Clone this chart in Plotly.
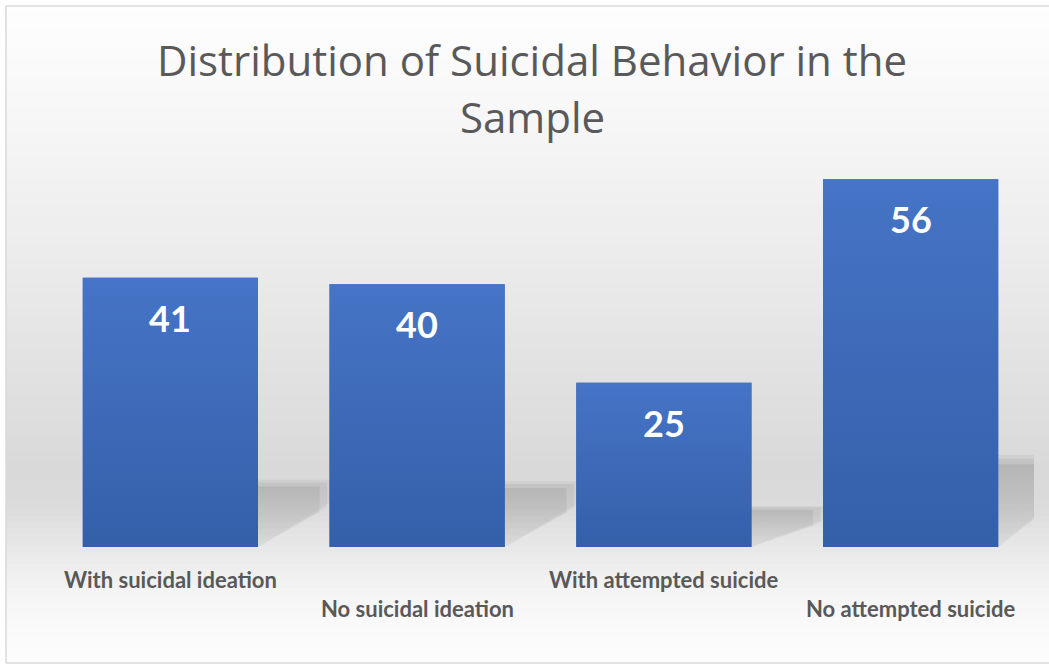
import plotly.graph_objects as go

# ---- data ----
categories = ["With suicidal ideation", "No suicidal ideation",
              "With attempted suicide", "No attempted suicide"]
values = [41, 40, 25, 56]
title_lines = ["Distribution of Suicidal Behavior in the", "Sample"]

# ---- layout constants ----
W, H = 1049, 666
ML, MR, MT, MB = 47, 15, 153, 119
PW, PH = W - ML - MR, H - MT - MB
YMAX = 60
BAR_W = 0.71
GREY_TXT = "#595959"

def px_x(px):
    return (px - ML) / PW

def px_y(py):
    return (H - MB - py) / PH

fig = go.Figure()

# soft shadows behind bars (derived from values), layered for a blur effect
layers = [(0.30, 0.25, 0.17, 0.05), (0.28, 0.24, 0.15, 0.06), (0.25, 0.225, 0.13, 0.07)]
for i, v in enumerate(values):
    xr = i + BAR_W / 2
    for wdt, top, low, a in layers:
        xs = [xr, xr, xr + wdt, xr + wdt, xr]
        ys = [0, top * v, top * v, low * v, 0]
        fig.add_trace(go.Scatter(
            x=xs, y=ys, mode="lines", fill="toself", line=dict(width=0),
            fillcolor=f"rgba(0,0,0,{a})",
            fillgradient=dict(type="vertical",
                              colorscale=[[0, f"rgba(0,0,0,{a*0.3:.3f})"], [1, f"rgba(0,0,0,{a:.3f})"]]),
            hoverinfo="skip", showlegend=False))

# bars
fig.add_trace(go.Bar(
    x=list(range(len(values))), y=values, width=BAR_W,
    marker=dict(color="#3d6abb", line=dict(width=0)),
    hovertext=categories, showlegend=False))

# gradient overlay on bars
for i, v in enumerate(values):
    x0, x1 = i - BAR_W / 2, i + BAR_W / 2
    fig.add_trace(go.Scatter(
        x=[x0, x0, x1, x1, x0], y=[0, v, v, 0, 0], mode="lines", fill="toself",
        line=dict(width=0), fillcolor="#3d6abb",
        fillgradient=dict(type="vertical",
                          colorscale=[[0, "#345fa9"], [1, "#4674c6"]]),
        hoverinfo="skip", showlegend=False))

# value labels
for i, v in enumerate(values):
    fig.add_annotation(x=i, y=v, yshift=-40, text=f"<b>{v}</b>", showarrow=False,
                       yanchor="middle", xanchor="center",
                       font=dict(family="Lato", size=36, color="white"))

# staggered category labels
for i, c in enumerate(categories):
    fig.add_annotation(x=i, y=0, yshift=-32 if i % 2 == 0 else -61,
                       text=f"<b>{c}</b>", showarrow=False,
                       yanchor="middle", xanchor="center",
                       font=dict(family="Lato", size=22, color=GREY_TXT))

# title (two lines)
for k, (line, py) in enumerate(zip(title_lines, [60, 117])):
    fig.add_annotation(xref="paper", yref="paper", x=px_x(532), y=px_y(py),
                       text=line, showarrow=False, xanchor="center", yanchor="middle",
                       font=dict(family="Open Sans", size=42, color=GREY_TXT))

# background gradient (decoration)
stops = [(6, 254), (100, 248), (200, 240), (300, 232), (400, 223), (470, 217),
         (505, 219), (535, 228), (565, 237), (600, 246), (640, 251), (663, 253)]

def grey_at(py):
    for (a, ga), (b, gb) in zip(stops, stops[1:]):
        if a <= py <= b:
            t = (py - a) / (b - a)
            return round(ga + (gb - ga) * t)
    return stops[-1][1]

shapes = []
step = 6
py = 6
while py < 663:
    g = grey_at(py + step / 2)
    shapes.append(dict(type="rect", xref="paper", yref="paper", layer="below",
                       x0=px_x(6), x1=px_x(W), y0=px_y(min(py + step, 663)), y1=px_y(py),
                       fillcolor=f"rgb({g},{g},{g})", line=dict(width=0)))
    py += step
# outer frame: top, left, bottom edges only
frame = dict(type="line", xref="paper", yref="paper", layer="above",
             line=dict(color="#d9d9d9", width=1.5))
shapes.append({**frame, "x0": px_x(6), "x1": px_x(W), "y0": px_y(6), "y1": px_y(6)})
shapes.append({**frame, "x0": px_x(6), "x1": px_x(6), "y0": px_y(6), "y1": px_y(663)})
shapes.append({**frame, "x0": px_x(6), "x1": px_x(W), "y0": px_y(663), "y1": px_y(663)})

fig.update_layout(
    width=W, height=H,
    margin=dict(l=ML, r=MR, t=MT, b=MB),
    paper_bgcolor="white", plot_bgcolor="rgba(0,0,0,0)",
    shapes=shapes,
    xaxis=dict(range=[-0.5, len(values) - 0.5], visible=False, fixedrange=True),
    yaxis=dict(range=[0, YMAX], visible=False, fixedrange=True),
    showlegend=False,
)

fig.write_html("out.html", config={"displayModeBar": False})
